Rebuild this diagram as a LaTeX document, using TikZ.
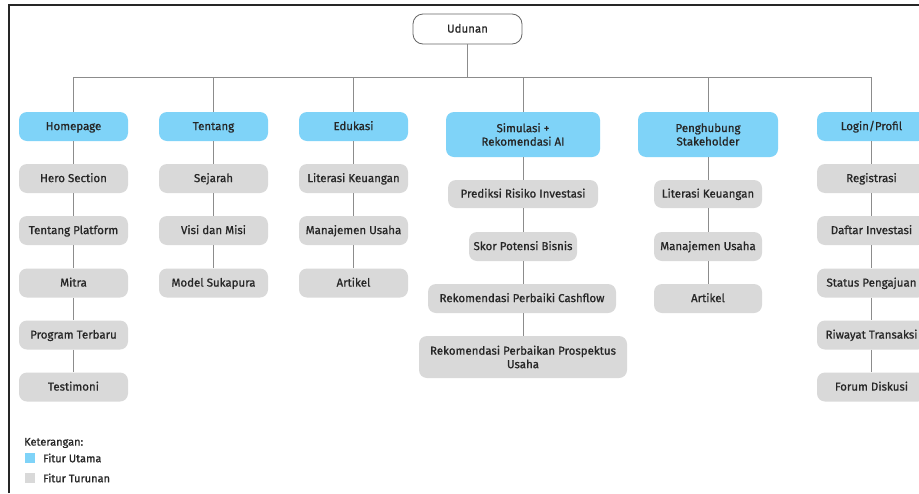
\documentclass[tikz,border=0pt]{standalone}
\usepackage{fontspec}
\setmainfont{Fira Sans}
\newfontfamily\featfont{Fira Sans}[FakeBold=0.9]
\definecolor{mainblue}{HTML}{7FD3F8}
\definecolor{subgray}{HTML}{D9D9D9}
\definecolor{linegray}{HTML}{8C8C8C}
\definecolor{txt}{HTML}{262626}
\tikzset{
  feat/.style={rounded corners=8pt, inner sep=0pt, align=center, text=txt,
    font=\featfont\fontsize{11.5}{13.5}\selectfont, minimum height=29pt, minimum width=109pt,
    text height=9.6pt, text depth=2.4pt},
  twoline/.style={text height={}, text depth={}},
  mainbox/.style={feat, fill=mainblue},
  subbox/.style={feat, fill=subgray},
  rootbox/.style={feat, fill=white, draw=black!60, line width=0.8pt, rounded corners=10pt, minimum height=30pt},
  conn/.style={draw=linegray, line width=0.9pt},
  legtext/.style={anchor=west, inner sep=0pt, text=txt, font=\featfont\fontsize{11}{12}\selectfont},
}
\begin{document}
\begin{tikzpicture}[x=1pt,y=-1pt]
\useasboundingbox (0,0) rectangle (919,493);
\clip (0,0) rectangle (919,493);
\fill[white] (0,0) rectangle (919,493);
\draw[line width=2pt, black!85] (9,493) -- (9,5) -- (919,5);

% root
\node[rootbox] (root) at (467.5,29) {Udunan};
\coordinate (busL) at (73.5,77);
\coordinate (busR) at (871.5,77);

% main features
\node[mainbox] (hp) at (73.5,126.5) {Homepage};
\node[mainbox] (tt) at (213.5,126.5) {Tentang};
\node[mainbox] (ed) at (353.5,126.5) {Edukasi};
\node[mainbox, twoline, minimum width=154pt, minimum height=45pt] (si) at (523,134.5) {Simulasi +\\Rekomendasi AI};
\node[mainbox, twoline, minimum width=140pt, minimum height=45pt] (pg) at (708,134.5) {Penghubung\\Stakeholder};
\node[mainbox] (lg) at (871.5,126.5) {Login/Profil};

% Homepage children
\node[subbox] (hp1) at (73.5,178.5) {Hero Section};
\node[subbox] (hp2) at (73.5,230.5) {Tentang Platform};
\node[subbox] (hp3) at (73.5,283) {Mitra};
\node[subbox] (hp4) at (73.5,335) {Program Terbaru};
\node[subbox] (hp5) at (73.5,387) {Testimoni};

% Tentang children
\node[subbox] (tt1) at (213.5,178.5) {Sejarah};
\node[subbox] (tt2) at (213.5,230.5) {Visi dan Misi};
\node[subbox] (tt3) at (213.5,283) {Model Sukapura};

% Edukasi children
\node[subbox] (ed1) at (353.5,178.5) {Literasi Keuangan};
\node[subbox] (ed2) at (353.5,230.5) {Manajemen Usaha};
\node[subbox] (ed3) at (353.5,283) {Artikel};

% Simulasi children
\node[subbox, minimum width=150pt, minimum height=28pt] (si1) at (523,194) {Prediksi Risiko Investasi};
\node[subbox, minimum width=108pt] (si2) at (523,246.5) {Skor Potensi Bisnis};
\node[subbox, minimum width=188pt] (si3) at (522,298.5) {Rekomendasi Perbaiki Cashflow};
\node[subbox, twoline, minimum width=208pt, minimum height=42pt] (si4) at (523,357) {Rekomendasi Perbaikan Prospektus\\Usaha};

% Penghubung children
\node[subbox, minimum width=108pt, minimum height=28pt] (pg1) at (708,194) {Literasi Keuangan};
\node[subbox, minimum width=108pt] (pg2) at (708,246.5) {Manajemen Usaha};
\node[subbox, minimum width=108pt] (pg3) at (708,298.5) {Artikel};

% Login children
\node[subbox] (lg1) at (871.5,178.5) {Registrasi};
\node[subbox] (lg2) at (871.5,230.5) {Daftar Investasi};
\node[subbox] (lg3) at (871.5,283) {Status Pengajuan};
\node[subbox] (lg4) at (871.5,335) {Riwayat Transaksi};
\node[subbox] (lg5) at (871.5,387) {Forum Diskusi};

% connectors
\draw[conn] (root.south) -- (root.south |- busL);
\draw[conn] (busL) -- (busR);
\foreach \n in {hp,tt,ed,si,pg,lg} {
  \draw[conn] (\n.north) -- (\n.north |- busL);
}
\draw[conn] (hp.south) -- (hp1.north);
\draw[conn] (hp1.south) -- (hp2.north);
\draw[conn] (hp2.south) -- (hp3.north);
\draw[conn] (hp3.south) -- (hp4.north);
\draw[conn] (hp4.south) -- (hp5.north);
\draw[conn] (tt.south) -- (tt1.north);
\draw[conn] (tt1.south) -- (tt2.north);
\draw[conn] (tt2.south) -- (tt3.north);
\draw[conn] (ed.south) -- (ed1.north);
\draw[conn] (ed1.south) -- (ed2.north);
\draw[conn] (ed2.south) -- (ed3.north);
\draw[conn] (si.south) -- (si1.north);
\draw[conn] (si1.south) -- (si2.north);
\draw[conn] (si2.south) -- (si2.south |- si3.north);
\draw[conn] (si2.south |- si3.south) -- (si2.south |- si4.north);
\draw[conn] (pg.south) -- (pg1.north);
\draw[conn] (pg1.south) -- (pg2.north);
\draw[conn] (pg2.south) -- (pg3.north);
\draw[conn] (lg.south) -- (lg1.north);
\draw[conn] (lg1.south) -- (lg2.north);
\draw[conn] (lg2.south) -- (lg3.north);
\draw[conn] (lg3.south) -- (lg4.north);
\draw[conn] (lg4.south) -- (lg5.north);

% legend
\node[legtext] (legt) at (24,443) {Keterangan:};
\fill[mainblue] (25,453) rectangle (35,463);
\node[legtext] (leg1) at (43,458) {Fitur Utama};
\fill[subgray] (25,473) rectangle (35,483);
\node[legtext] (leg2) at (43,478) {Fitur Turunan};
\end{tikzpicture}
\end{document}
